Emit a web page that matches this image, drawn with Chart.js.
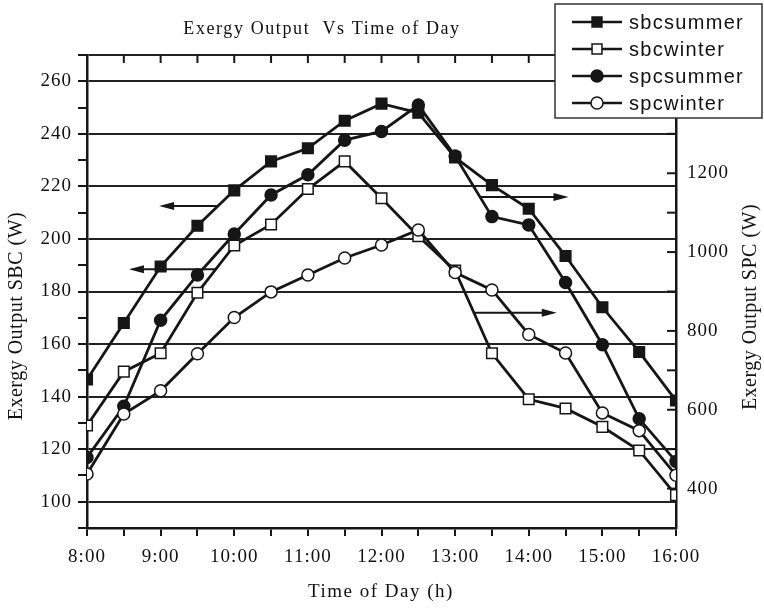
<!DOCTYPE html>
<html>
<head>
<meta charset="utf-8">
<title>Exergy Output Vs Time of Day</title>
<script src="https://cdn.jsdelivr.net/npm/chart.js@4.4.1/dist/chart.umd.min.js"></script>
<style>
  html, body { margin: 0; padding: 0; background: #fff; }
  #wrap { width: 764px; height: 608px; }
</style>
</head>
<body>
<div id="wrap"><canvas id="exergy" width="764" height="608"></canvas></div>
<script>
// time of day in hours, half-hour readings
const hours = [8, 8.5, 9, 9.5, 10, 10.5, 11, 11.5, 12, 12.5, 13, 13.5, 14, 14.5, 15, 15.5, 16];
const xTickLabels = ['8:00', '9:00', '10:00', '11:00', '12:00', '13:00', '14:00', '15:00', '16:00'];
const sbcTickLabels = [100, 120, 140, 160, 180, 200, 220, 240, 260];
const spcTickLabels = [400, 600, 800, 1000, 1200, 1400];

// SBC exergy output (W) - left axis
const sbcSummer = [146.5, 168, 189.5, 205, 218.5, 229.5, 234.5, 245, 251.5, 248, 231, 220.5, 211.5, 193.5, 174, 157, 138.5];
const sbcWinter = [129, 149.5, 156.5, 179.5, 197.5, 205.5, 219, 229.5, 215.5, 201, 188, 156.5, 139, 135.5, 128.5, 119.5, 102.5];
// SPC exergy output (W) - right axis
const spcSummer = [479, 609, 827, 942, 1046, 1145, 1196, 1284, 1306, 1373, 1244, 1090, 1069, 923, 765, 577, 469];
const spcWinter = [437, 589, 648, 742, 834, 899, 942, 985, 1018, 1056, 948, 904, 791, 744, 592, 547, 434];

// arrows telling which axis a curve belongs to (hours / axis units)
const axisArrows = [
  { axis: 'y',  from: 9.78,  to: 8.98,  at: 212.5 },
  { axis: 'y',  from: 9.74,  to: 8.57,  at: 188.5 },
  { axis: 'y2', from: 13.34, to: 14.54, at: 1140 },
  { axis: 'y2', from: 13.27, to: 14.38, at: 846 },
];

const INK = '#161616';
const TEXT = '#111';
const SERIF = "'Liberation Serif', 'Times New Roman', serif";
const SANS = "'Liberation Sans', Arial, sans-serif";

function series(label, data, axis, style, filled, order) {
  return {
    label,
    data: hours.map((h, i) => ({ x: h, y: data[i] })),
    yAxisID: axis,
    order,
    borderColor: INK,
    borderWidth: 2.8,
    pointStyle: style,
    pointRadius: style === 'rect' ? 7.5 : 6,
    pointBorderWidth: 1.5,
    pointBorderColor: INK,
    pointBackgroundColor: filled ? INK : '#ffffff',
    fill: false,
    tension: 0,
    filled,
  };
}

const datasets = [
  series('sbcsummer', sbcSummer, 'y', 'rect', true, 4),
  series('sbcwinter', sbcWinter, 'y', 'rect', false, 3),
  series('spcsummer', spcSummer, 'y2', 'circle', true, 2),
  series('spcwinter', spcWinter, 'y2', 'circle', false, 1),
];

function text(ctx, str, x, y, font, spacing, align, angle) {
  ctx.save();
  ctx.translate(x, y);
  if (angle) ctx.rotate(angle);
  ctx.font = font;
  ctx.letterSpacing = spacing;
  ctx.fillStyle = TEXT;
  ctx.textAlign = align || 'center';
  ctx.textBaseline = 'middle';
  ctx.fillText(str, 0, 0);
  ctx.restore();
}

// frame ticks pointing inward, annotation arrows, titles and the boxed legend
const frameAndNotes = {
  id: 'frameAndNotes',
  beforeDraw(chart) {
    chart.ctx.letterSpacing = '1px';
  },
  afterDatasetsDraw(chart) {
    const { ctx, chartArea: a, scales } = chart;
    ctx.save();
    ctx.letterSpacing = '0px';
    ctx.strokeStyle = INK;
    ctx.fillStyle = INK;
    ctx.lineWidth = 2;
    scales.x.ticks.forEach(t => {
      const px = scales.x.getPixelForValue(t.value);
      ctx.beginPath(); ctx.moveTo(px, a.top); ctx.lineTo(px, a.top + 8); ctx.stroke();
    });
    scales.y2.ticks.forEach(t => {
      const py = scales.y2.getPixelForValue(t.value);
      ctx.beginPath(); ctx.moveTo(a.right, py); ctx.lineTo(a.right - 9, py); ctx.stroke();
    });
    axisArrows.forEach(ar => {
      const y = scales[ar.axis].getPixelForValue(ar.at);
      const x0 = scales.x.getPixelForValue(ar.from);
      const x1 = scales.x.getPixelForValue(ar.to);
      const dir = Math.sign(x1 - x0);
      ctx.lineWidth = 2;
      ctx.beginPath(); ctx.moveTo(x0, y); ctx.lineTo(x1 - dir * 10, y); ctx.stroke();
      ctx.beginPath();
      ctx.moveTo(x1, y);
      ctx.lineTo(x1 - dir * 15, y - 4);
      ctx.lineTo(x1 - dir * 15, y + 4);
      ctx.closePath(); ctx.fill();
    });
    ctx.restore();
  },
  afterDraw(chart) {
    const ctx = chart.ctx;
    text(ctx, 'Exergy Output  Vs Time of Day', 322, 29, `18px ${SERIF}`, '1.6px');
    text(ctx, 'Time of Day (h)', 381, 592, `19px ${SERIF}`, '1.5px');
    text(ctx, 'Exergy Output SBC (W)', 17, 316, `20px ${SERIF}`, '0.5px', 'center', -Math.PI / 2);
    text(ctx, 'Exergy Output SPC (W)', 751, 307, `20px ${SERIF}`, '0.5px', 'center', -Math.PI / 2);

    // legend box
    ctx.save();
    ctx.letterSpacing = '0px';
    ctx.fillStyle = '#fff';
    ctx.strokeStyle = '#333';
    ctx.lineWidth = 1.5;
    ctx.fillRect(555, 4, 207, 114);
    ctx.strokeRect(555, 4, 207, 114);
    chart.data.datasets.forEach((ds, i) => {
      const y = 22 + i * 27;
      ctx.strokeStyle = INK;
      ctx.lineWidth = 2.5;
      ctx.beginPath(); ctx.moveTo(572, y); ctx.lineTo(622, y); ctx.stroke();
      ctx.fillStyle = ds.filled ? INK : '#fff';
      ctx.lineWidth = 1.5;
      Chart.helpers.drawPoint(ctx, {
        pointStyle: ds.pointStyle,
        radius: ds.pointStyle === 'rect' ? 7 : 6,
        rotation: 0,
        borderWidth: 1.5,
      }, 597, y);
      text(ctx, ds.label, 629, y + 1, `20px ${SANS}`, '1.3px', 'left');
    });
    ctx.restore();
  },
};

new Chart(document.getElementById('exergy'), {
  type: 'line',
  data: { datasets },
  plugins: [frameAndNotes],
  options: {
    responsive: false,
    animation: false,
    layout: { padding: { top: 55, left: 0, right: 0, bottom: 0 } },
    plugins: { legend: { display: false }, title: { display: false }, tooltip: { enabled: false } },
    scales: {
      x: {
        type: 'linear',
        min: 8,
        max: 16,
        afterFit: s => { s.height = 80; },
        ticks: {
          stepSize: 0.5,
          autoSkip: false,
          maxRotation: 0,
          padding: 10,
          color: TEXT,
          font: { family: SERIF, size: 19 },
          callback: v => Number.isInteger(v) ? xTickLabels[v - hours[0]] : '',
        },
        grid: { drawOnChartArea: false, tickLength: 8, tickColor: INK, lineWidth: 2 },
        border: { display: true, color: INK, width: 2.5 },
      },
      y: {
        position: 'left',
        min: 90,
        max: 270,
        afterFit: s => { s.width = 87; },
        ticks: {
          stepSize: 10,
          autoSkip: false,
          padding: 6,
          color: TEXT,
          font: { family: SERIF, size: 19 },
          callback: v => sbcTickLabels.includes(v) ? String(v) : '',
        },
        grid: {
          color: c => (sbcTickLabels.includes(c.tick.value) || c.tick.value === 270) ? '#222' : 'rgba(0,0,0,0)',
          tickColor: INK,
          lineWidth: 2,
          tickLength: 9,
        },
        border: { display: true, color: INK, width: 2.5 },
      },
      y2: {
        position: 'right',
        min: 300,
        max: 1500,
        afterFit: s => { s.width = 88; },
        ticks: {
          stepSize: 100,
          autoSkip: false,
          padding: 11,
          color: TEXT,
          font: { family: SERIF, size: 19 },
          callback: v => spcTickLabels.includes(v) ? String(v) : '',
        },
        grid: { drawOnChartArea: false, drawTicks: false },
        border: { display: true, color: INK, width: 2.5 },
      },
    },
  },
});
</script>
</body>
</html>
